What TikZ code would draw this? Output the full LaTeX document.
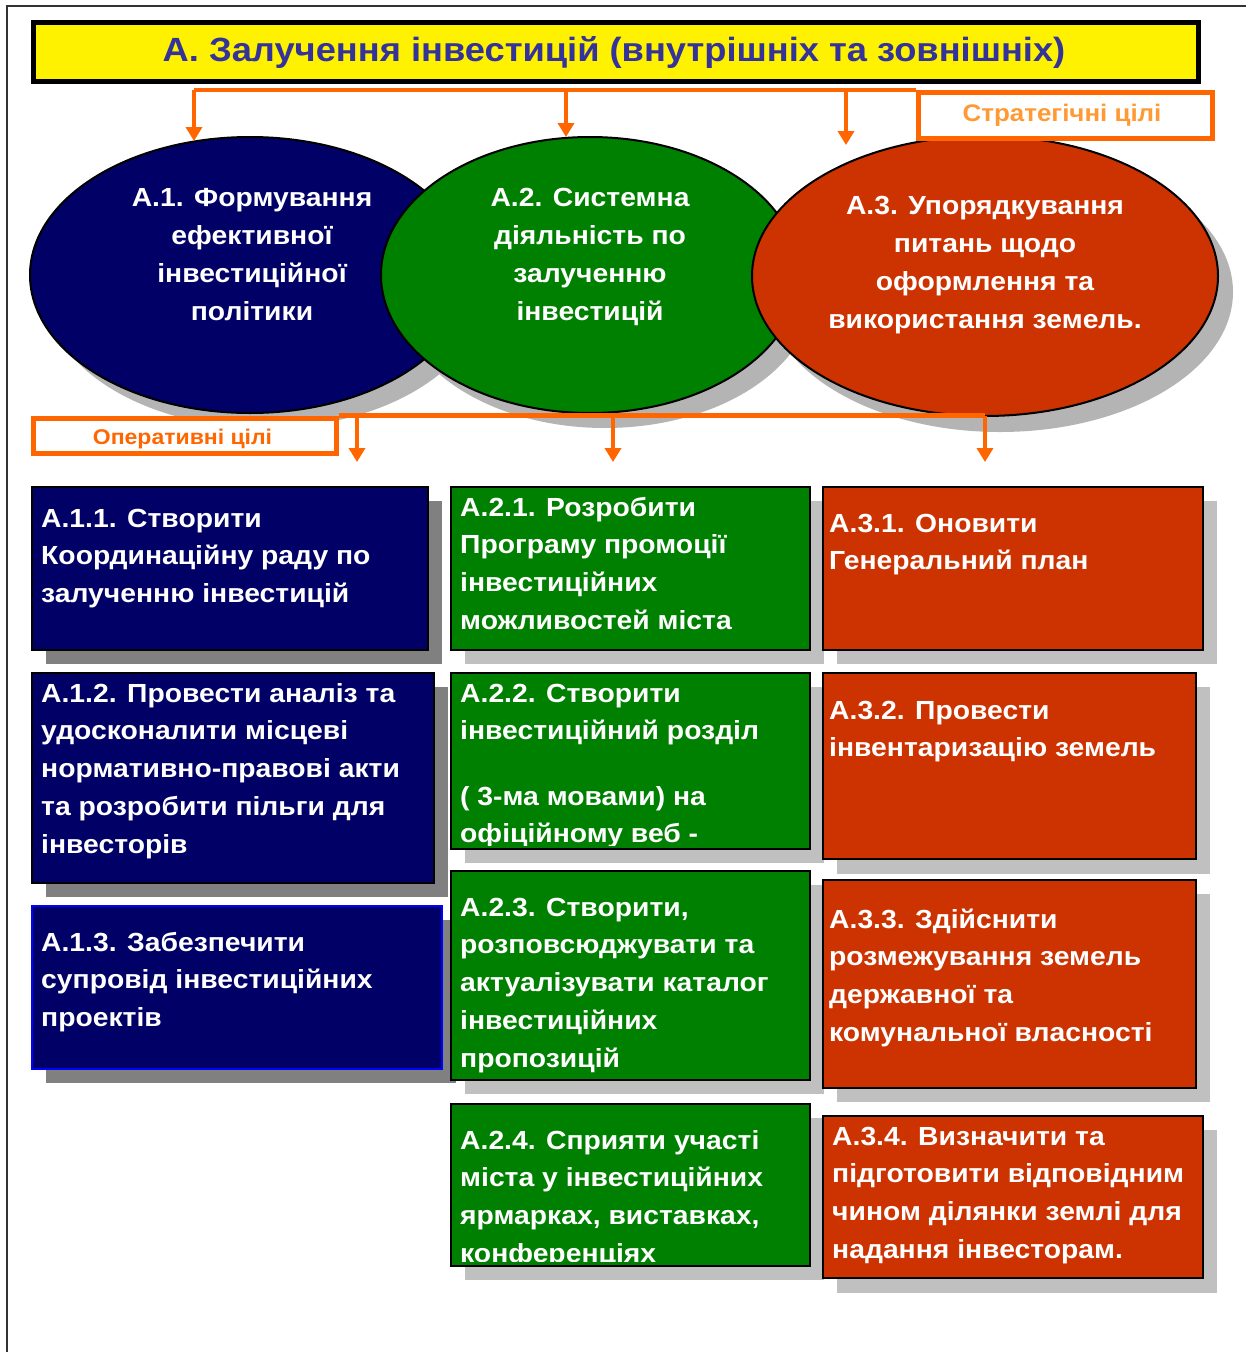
\documentclass[tikz,border=0pt]{standalone}
\usepackage{fontspec}
\setmainfont{Liberation Sans}
\newfontfamily\wfont{Liberation Sans}[FakeStretch=1.08]
\usetikzlibrary{shapes.geometric,arrows.meta}
\definecolor{navy}{HTML}{000066}
\definecolor{grn}{HTML}{008000}
\definecolor{rd}{HTML}{CC3300}
\definecolor{titleblue}{HTML}{333399}
\definecolor{org}{HTML}{FF6600}
\definecolor{lorg}{HTML}{FF9933}
\definecolor{shdark}{HTML}{808080}
\definecolor{shlight}{HTML}{C0C0C0}
\definecolor{shell}{HTML}{B4B4B4}
\tikzset{
  nbox/.style={draw=black, line width=2pt, rectangle, anchor=north west, inner sep=0pt},
  ell/.style={draw=black, line width=2pt, ellipse, inner sep=0pt},
  txt/.style={anchor=base west, inner sep=0pt, text=white, font=\wfont\bfseries\fontsize{26.2}{37.8}\selectfont},
  ctxt/.style={anchor=base, inner sep=0pt, text=white, font=\wfont\bfseries\fontsize{26.2}{38.2}\selectfont},
  oline/.style={draw=org, line width=4.5pt},
  oarrow/.style={draw=org, line width=4.5pt, -{Triangle[width=16pt,length=14pt]}},
  obox/.style={draw=org, line width=5pt, rectangle, anchor=north west, inner sep=0pt, fill=white},
}
\begin{document}
\begin{tikzpicture}[x=1pt,y=-1pt]
\useasboundingbox (0,0) rectangle (1246,1352);
\fill[white] (0,0) rectangle (1246,1352);
% page frame
\draw[line width=2pt, black!80] (7,1352) -- (7,6) -- (1246,6);

% title
\node[draw=black, line width=5pt, fill=yellow, anchor=north west, minimum width=1165, minimum height=59, inner sep=0pt] (tbox) at (30.5,19.5) {};
\node[anchor=base, inner sep=0pt, text=titleblue, font=\wfont\bfseries\fontsize{33.6}{40}\selectfont] (title) at (614,61) {А. Залучення інвестицій (внутрішніх та зовнішніх)};

% ellipses with shadows
\fill[shell] (265,290) ellipse [x radius=220, y radius=138];
\node[ell, fill=navy, minimum width=440, minimum height=276] (e1) at (250,275) {};
\fill[shell] (605,290) ellipse [x radius=209, y radius=138];
\node[ell, fill=grn, minimum width=418, minimum height=276] (e2) at (590,275) {};
\fill[shell] (1000,292) ellipse [x radius=233, y radius=140];
\node[ell, fill=rd, minimum width=466, minimum height=280] (e3) at (985,276) {};

\node[ctxt] (e1t) at (252,206) {\begin{tabular}[t]{@{}c@{}}А.1. Формування\\ ефективної\\ інвестиційної\\ політики\end{tabular}};
\node[ctxt] (e2t) at (590,206) {\begin{tabular}[t]{@{}c@{}}А.2. Системна\\ діяльність по\\ залученню\\ інвестицій\end{tabular}};
\node[ctxt] (e3t) at (985,214) {\begin{tabular}[t]{@{}c@{}}А.3. Упорядкування\\ питань щодо\\ оформлення та\\ використання земель.\end{tabular}};

% strategic goals box and top connectors
\node[obox, minimum width=294.5, minimum height=45.5] (sbox) at (915.5,90) {};
\node[anchor=base, inner sep=0pt, text=lorg, font=\wfont\bfseries\fontsize{24}{28}\selectfont] (stxt) at (1062,121) {Стратегічні цілі};
\coordinate (tl) at (194,90);
\coordinate (tm) at (566,90);
\coordinate (tr) at (846,90);
\coordinate (tend) at (sbox.north west);
\coordinate (a1) at (194,141);
\coordinate (a2) at (566,137);
\coordinate (a3) at (846,145);
\draw[oline] (tl) -- (tend);
\draw[oarrow] (tl) -- (a1);
\draw[oarrow] (tm) -- (a2);
\draw[oarrow] (tr) -- (a3);

% operative goals box and connectors
\node[obox, minimum width=303, minimum height=35.3] (obx) at (30.5,415.5) {};
\node[anchor=base, inner sep=0pt, text=org, font=\wfont\bfseries\fontsize{21.3}{26}\selectfont] (otxt) at (182.5,444) {Оперативні цілі};
\coordinate (bl) at (357,415.5);
\coordinate (bm) at (613,415.5);
\coordinate (br) at (985,415.5);
\coordinate (c1) at (357,462);
\coordinate (c2) at (613,462);
\coordinate (c3) at (985,462);
\draw[oline] (obx.north east) -- (br);
\draw[oarrow] (bl) -- (c1);
\draw[oarrow] (bm) -- (c2);
\draw[oarrow] (br) -- (c3);

% shadows of boxes
\fill[shdark] (46,501) rectangle (442,664);
\fill[shdark] (46,687) rectangle (448,897);
\fill[shdark] (46,920) rectangle (456,1083);
\fill[shlight] (465,501) rectangle (824,664);
\fill[shlight] (465,687) rectangle (824,863);
\fill[shlight] (465,885) rectangle (824,1094);
\fill[shlight] (465,1118) rectangle (824,1280);
\fill[shlight] (837,501) rectangle (1217,664);
\fill[shlight] (837,687) rectangle (1210,874);
\fill[shlight] (837,894) rectangle (1210,1102);
\fill[shlight] (837,1130) rectangle (1217,1293);

% left column
\node[nbox, fill=navy, minimum width=396, minimum height=163] (b11) at (31,486) {};
\node[nbox, fill=navy, minimum width=402, minimum height=210] (b12) at (31,672) {};
\node[nbox, draw=blue, fill=navy, minimum width=410, minimum height=163] (b13) at (31,905) {};
\node[txt] (t11) at (41,527) {\begin{tabular}[t]{@{}l@{}}А.1.1. Створити\\ Координаційну раду по\\ залученню інвестицій\end{tabular}};
\node[txt] (t12) at (41,702) {\begin{tabular}[t]{@{}l@{}}А.1.2. Провести аналіз та\\ удосконалити місцеві\\ нормативно-правові акти\\ та розробити пільги для\\ інвесторів\end{tabular}};
\node[txt] (t13) at (41,951) {\begin{tabular}[t]{@{}l@{}}А.1.3. Забезпечити\\ супровід інвестиційних\\ проектів\end{tabular}};

% middle column
\node[nbox, fill=grn, minimum width=359, minimum height=163] (b21) at (450,486) {};
\node[nbox, fill=grn, minimum width=359, minimum height=176] (b22) at (450,672) {};
\node[nbox, fill=grn, minimum width=359, minimum height=209] (b23) at (450,870) {};
\node[nbox, fill=grn, minimum width=359, minimum height=162] (b24) at (450,1103) {};
\node[txt] (t21) at (460,516) {\begin{tabular}[t]{@{}l@{}}А.2.1. Розробити\\ Програму промоції\\ інвестиційних\\ можливостей міста\end{tabular}};
\begin{scope}
\clip (451,673) rectangle (808,845);
\node[txt] (t22a) at (460,702) {\begin{tabular}[t]{@{}l@{}}А.2.2. Створити\\ інвестиційний розділ\end{tabular}};
\node[txt] (t22b) at (460,805) {\begin{tabular}[t]{@{}l@{}}( 3-ма мовами) на\\ офіційному веб -\end{tabular}};
\end{scope}
\node[txt] (t23) at (460,916) {\begin{tabular}[t]{@{}l@{}}А.2.3. Створити,\\ розповсюджувати та\\ актуалізувати каталог\\ інвестиційних\\ пропозицій\end{tabular}};
\begin{scope}
\clip (451,1104) rectangle (808,1261);
\node[txt] (t24) at (460,1149) {\begin{tabular}[t]{@{}l@{}}А.2.4. Сприяти участі\\ міста у інвестиційних\\ ярмарках, виставках,\\ конференціях\end{tabular}};
\end{scope}

% right column
\node[nbox, fill=rd, minimum width=380, minimum height=163] (b31) at (822,486) {};
\node[nbox, fill=rd, minimum width=373, minimum height=186] (b32) at (822,672) {};
\node[nbox, fill=rd, minimum width=373, minimum height=208] (b33) at (822,879) {};
\node[nbox, fill=rd, minimum width=380, minimum height=162] (b34) at (822,1115) {};
\node[txt] (t31) at (829,532) {\begin{tabular}[t]{@{}l@{}}А.3.1. Оновити\\ Генеральний план\end{tabular}};
\node[txt] (t32) at (829,719) {\begin{tabular}[t]{@{}l@{}}А.3.2. Провести\\ інвентаризацію земель\end{tabular}};
\node[txt] (t33) at (829,928) {\begin{tabular}[t]{@{}l@{}}А.3.3. Здійснити\\ розмежування земель\\ державної та\\ комунальної власності\end{tabular}};
\node[txt] (t34) at (832,1145) {\begin{tabular}[t]{@{}l@{}}А.3.4. Визначити та\\ підготовити відповідним\\ чином ділянки землі для\\ надання інвесторам.\end{tabular}};
\end{tikzpicture}
\end{document}
